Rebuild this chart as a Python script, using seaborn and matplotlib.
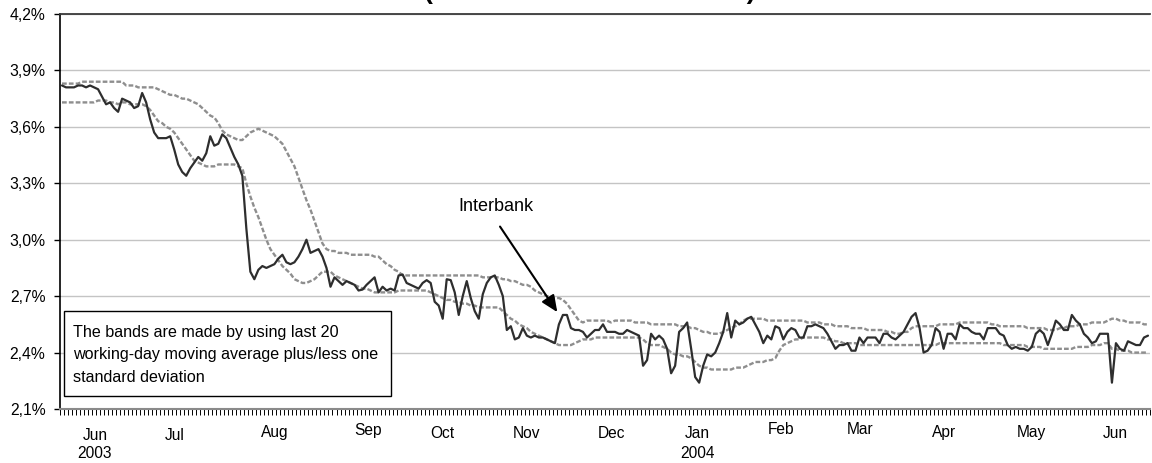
import numpy as np
import pandas as pd
import matplotlib
matplotlib.use("Agg")
import matplotlib.pyplot as plt
import matplotlib.transforms as mtransforms
from matplotlib.patches import Rectangle
from matplotlib.ticker import FuncFormatter
import seaborn as sns

# ---------------- data (percent, one value per working day) ----------------
interbank = [
    3.82, 3.81, 3.81, 3.81, 3.82, 3.82, 3.81, 3.82, 3.81, 3.80,
    3.76, 3.72, 3.73, 3.70, 3.68, 3.75, 3.74, 3.73, 3.70, 3.71,
    3.78, 3.73, 3.64, 3.57, 3.54, 3.54, 3.54, 3.55, 3.48, 3.40,
    3.36, 3.34, 3.38, 3.41, 3.44, 3.42, 3.46, 3.55, 3.50, 3.51,
    3.56, 3.54, 3.49, 3.44, 3.40, 3.34, 3.06, 2.83, 2.79, 2.84,
    2.86, 2.85, 2.86, 2.87, 2.90, 2.92, 2.88, 2.87, 2.88, 2.91,
    2.95, 3.00, 2.93, 2.94, 2.95, 2.91, 2.85, 2.75, 2.80, 2.78,
    2.76, 2.78, 2.77, 2.76, 2.73, 2.735, 2.76, 2.78, 2.80, 2.72,
    2.75, 2.73, 2.74, 2.73, 2.81, 2.815, 2.77, 2.76, 2.75, 2.74,
    2.77, 2.785, 2.77, 2.67, 2.65, 2.58, 2.79, 2.785, 2.72, 2.60,
    2.70, 2.78, 2.69, 2.62, 2.58, 2.71, 2.77, 2.80, 2.81, 2.76,
    2.70, 2.52, 2.54, 2.47, 2.48, 2.53, 2.49, 2.48, 2.49, 2.48,
    2.48, 2.47, 2.46, 2.45, 2.55, 2.60, 2.60, 2.53, 2.52, 2.52,
    2.51, 2.48, 2.50, 2.52, 2.52, 2.55, 2.51, 2.51, 2.51, 2.50,
    2.50, 2.52, 2.51, 2.50, 2.49, 2.33, 2.36, 2.50, 2.47, 2.49,
    2.47, 2.42, 2.29, 2.33, 2.51, 2.53, 2.56, 2.42, 2.27, 2.24,
    2.33, 2.39, 2.38, 2.40, 2.45, 2.51, 2.61, 2.48, 2.57, 2.55,
    2.56, 2.58, 2.59, 2.55, 2.51, 2.45, 2.49, 2.47, 2.54, 2.53,
    2.47, 2.51, 2.53, 2.52, 2.48, 2.48, 2.54, 2.54, 2.55, 2.54,
    2.53, 2.50, 2.46, 2.42, 2.44, 2.44, 2.45, 2.41, 2.41, 2.48,
    2.45, 2.48, 2.48, 2.48, 2.45, 2.50, 2.50, 2.48, 2.47, 2.49,
    2.51, 2.55, 2.59, 2.61, 2.53, 2.40, 2.41, 2.44, 2.53, 2.51,
    2.42, 2.50, 2.50, 2.47, 2.55, 2.53, 2.53, 2.51, 2.50, 2.50,
    2.47, 2.53, 2.53, 2.53, 2.50, 2.49, 2.44, 2.42, 2.43, 2.42,
    2.42, 2.41, 2.43, 2.50, 2.52, 2.50, 2.44, 2.50, 2.57, 2.55,
    2.52, 2.52, 2.60, 2.57, 2.55, 2.50, 2.48, 2.45, 2.46, 2.50,
    2.50, 2.50, 2.24, 2.45, 2.42, 2.41, 2.46, 2.45, 2.44, 2.44,
    2.48, 2.49,
]

upper_band = [
    3.83, 3.83, 3.83, 3.83, 3.83, 3.84, 3.84, 3.84, 3.84, 3.84,
    3.84, 3.84, 3.84, 3.84, 3.84, 3.84, 3.82, 3.82, 3.82, 3.81,
    3.81, 3.81, 3.81, 3.81, 3.80, 3.79, 3.78, 3.77, 3.77, 3.76,
    3.75, 3.75, 3.74, 3.73, 3.72, 3.70, 3.68, 3.66, 3.65, 3.62,
    3.58, 3.56, 3.55, 3.54, 3.53, 3.53, 3.55, 3.57, 3.58, 3.59,
    3.58, 3.57, 3.56, 3.55, 3.53, 3.51, 3.47, 3.43, 3.39, 3.33,
    3.27, 3.21, 3.16, 3.10, 3.04, 2.98, 2.95, 2.94, 2.94, 2.93,
    2.93, 2.93, 2.92, 2.92, 2.92, 2.92, 2.92, 2.92, 2.91, 2.91,
    2.89, 2.87, 2.86, 2.84, 2.83, 2.81, 2.81, 2.81, 2.81, 2.81,
    2.81, 2.81, 2.81, 2.81, 2.81, 2.81, 2.81, 2.81, 2.81, 2.81,
    2.81, 2.81, 2.81, 2.81, 2.81, 2.80, 2.80, 2.80, 2.80, 2.80,
    2.79, 2.79, 2.78, 2.78, 2.77, 2.76, 2.76, 2.75, 2.73, 2.72,
    2.71, 2.70, 2.70, 2.69, 2.69, 2.68, 2.66, 2.63, 2.60, 2.57,
    2.56, 2.57, 2.57, 2.57, 2.57, 2.57, 2.57, 2.56, 2.57, 2.57,
    2.57, 2.57, 2.57, 2.56, 2.56, 2.56, 2.56, 2.55, 2.55, 2.55,
    2.55, 2.55, 2.55, 2.55, 2.54, 2.54, 2.54, 2.53, 2.53, 2.52,
    2.51, 2.51, 2.50, 2.50, 2.50, 2.51, 2.52, 2.53, 2.54, 2.55,
    2.57, 2.58, 2.58, 2.58, 2.58, 2.58, 2.57, 2.57, 2.57, 2.57,
    2.57, 2.57, 2.57, 2.57, 2.57, 2.57, 2.56, 2.56, 2.56, 2.56,
    2.55, 2.55, 2.55, 2.54, 2.54, 2.54, 2.54, 2.53, 2.53, 2.53,
    2.53, 2.52, 2.52, 2.52, 2.52, 2.52, 2.51, 2.51, 2.50, 2.50,
    2.51, 2.51, 2.53, 2.54, 2.54, 2.54, 2.54, 2.54, 2.54, 2.55,
    2.55, 2.55, 2.55, 2.55, 2.56, 2.56, 2.56, 2.56, 2.56, 2.56,
    2.56, 2.56, 2.55, 2.55, 2.54, 2.54, 2.54, 2.54, 2.54, 2.54,
    2.54, 2.53, 2.53, 2.53, 2.53, 2.53, 2.52, 2.52, 2.52, 2.53,
    2.53, 2.54, 2.54, 2.54, 2.55, 2.55, 2.55, 2.56, 2.56, 2.56,
    2.56, 2.57, 2.58, 2.58, 2.57, 2.57, 2.56, 2.56, 2.56, 2.56,
    2.55, 2.55,
]

lower_band = [
    3.73, 3.73, 3.73, 3.73, 3.73, 3.73, 3.73, 3.73, 3.73, 3.74,
    3.74, 3.74, 3.73, 3.73, 3.72, 3.73, 3.73, 3.72, 3.72, 3.72,
    3.72, 3.71, 3.69, 3.66, 3.63, 3.62, 3.60, 3.59, 3.57, 3.54,
    3.51, 3.48, 3.45, 3.42, 3.41, 3.40, 3.39, 3.39, 3.39, 3.40,
    3.40, 3.40, 3.40, 3.40, 3.39, 3.38, 3.30, 3.23, 3.17, 3.12,
    3.06, 3.00, 2.95, 2.92, 2.89, 2.86, 2.84, 2.82, 2.79, 2.78,
    2.77, 2.77, 2.78, 2.79, 2.81, 2.83, 2.83, 2.83, 2.81, 2.80,
    2.79, 2.78, 2.77, 2.76, 2.75, 2.74, 2.74, 2.73, 2.72, 2.72,
    2.72, 2.72, 2.72, 2.72, 2.73, 2.73, 2.73, 2.73, 2.73, 2.73,
    2.73, 2.73, 2.72, 2.71, 2.70, 2.69, 2.68, 2.68, 2.67, 2.67,
    2.66, 2.66, 2.65, 2.65, 2.64, 2.64, 2.64, 2.64, 2.64, 2.64,
    2.62, 2.60, 2.58, 2.57, 2.55, 2.54, 2.53, 2.51, 2.50, 2.49,
    2.48, 2.47, 2.46, 2.45, 2.44, 2.44, 2.44, 2.44, 2.45, 2.46,
    2.47, 2.47, 2.47, 2.48, 2.48, 2.48, 2.48, 2.48, 2.48, 2.48,
    2.48, 2.48, 2.48, 2.48, 2.48, 2.47, 2.45, 2.44, 2.44, 2.44,
    2.43, 2.42, 2.40, 2.39, 2.39, 2.38, 2.38, 2.37, 2.35, 2.33,
    2.32, 2.32, 2.31, 2.31, 2.31, 2.31, 2.31, 2.31, 2.32, 2.32,
    2.32, 2.33, 2.34, 2.35, 2.35, 2.35, 2.36, 2.36, 2.37, 2.41,
    2.44, 2.45, 2.46, 2.47, 2.47, 2.48, 2.48, 2.48, 2.48, 2.48,
    2.48, 2.47, 2.47, 2.46, 2.46, 2.45, 2.45, 2.45, 2.45, 2.44,
    2.44, 2.44, 2.44, 2.44, 2.44, 2.44, 2.44, 2.44, 2.44, 2.44,
    2.44, 2.44, 2.44, 2.44, 2.44, 2.44, 2.44, 2.44, 2.44, 2.45,
    2.45, 2.45, 2.45, 2.45, 2.45, 2.45, 2.45, 2.45, 2.45, 2.45,
    2.45, 2.45, 2.45, 2.45, 2.45, 2.44, 2.44, 2.44, 2.44, 2.44,
    2.44, 2.43, 2.43, 2.43, 2.43, 2.42, 2.42, 2.42, 2.42, 2.42,
    2.42, 2.42, 2.42, 2.43, 2.43, 2.43, 2.43, 2.44, 2.44, 2.44,
    2.45, 2.45, 2.42, 2.42, 2.41, 2.41, 2.41, 2.40, 2.40, 2.40,
    2.40, 2.40,
]

month_labels = ["Jun", "Jul", "Aug", "Sep", "Oct", "Nov", "Dec",
                "Jan", "Feb", "Mar", "Apr", "May", "Jun"]
month_pos = [8.2, 28.2, 53.2, 76.4, 94.8, 116.0, 137.0,
             158.5, 179.4, 199.2, 220.1, 241.8, 262.8]
year_labels = ["2003", "2004"]
year_pos = [8.2, 158.5]
y_ticks = [2.1, 2.4, 2.7, 3.0, 3.3, 3.6, 3.9, 4.2]

title_text = "(Interbank rate and bands)"
note_lines = ["The bands are made by using last 20",
              "working-day moving average plus/less one",
              "standard deviation"]

# ---------------- figure ----------------
sns.set_style("white")
plt.rcParams['font.family'] = ['Liberation Sans', 'DejaVu Sans']

W, H = 1152, 463
fig = plt.figure(figsize=(W / 100, H / 100), dpi=100)
ax_l, ax_r, ax_t, ax_b = 60, 1150, 14, 409
ax = fig.add_axes([ax_l / W, (H - ax_b) / H, (ax_r - ax_l) / W, (ax_b - ax_t) / H])

N = len(interbank)
df = pd.DataFrame({"day": np.arange(N), "Interbank": interbank,
                   "Upper": upper_band, "Lower": lower_band})

band_color = "#8e8e8e"
for col in ["Upper", "Lower"]:
    sns.lineplot(data=df, x="day", y=col, ax=ax, color=band_color, lw=1.7)
    ax.lines[-1].set_linestyle((0, (2.0, 0.9)))
sns.lineplot(data=df, x="day", y="Interbank", ax=ax, color="#2e2e2e", lw=1.6)

ax.set_xlim(-0.5, N - 0.5)
ax.set_ylim(2.1, 4.2)
ax.set_xlabel("")
ax.set_ylabel("")

ax.set_yticks(y_ticks)
ax.yaxis.set_major_formatter(FuncFormatter(lambda v, _: f"{v:.1f}%".replace(".", ",")))
ax.yaxis.grid(True, color="#c4c4c4", lw=1.0)
ax.xaxis.grid(False)
ax.set_axisbelow(True)

ax.set_xticks(np.arange(N + 1) - 0.5)
ax.set_xticklabels([])
ax.tick_params(axis="x", which="major", direction="out", length=4, width=0.7,
               color="black", bottom=True)
ax.tick_params(axis="y", direction="out", length=4.5, width=1.0, color="black",
               left=True, labelsize=11.3, pad=6, labelcolor="black")

ax.spines["right"].set_visible(False)
ax.spines["left"].set_color("black")
ax.spines["left"].set_linewidth(1.2)
ax.spines["top"].set_color("#3a3a3a")
ax.spines["top"].set_linewidth(1.3)
ax.spines["bottom"].set_color("#8a8a8a")
ax.spines["bottom"].set_linewidth(1.5)

# month labels (staggered like the original)
trans = mtransforms.blended_transform_factory(ax.transData, ax.transAxes)
month_ypx = [435, 435, 433, 431, 434, 434, 434, 434, 430, 430, 432, 432, 434]
for lbl, pos, ypx in zip(month_labels, month_pos, month_ypx):
    ax.text(pos, -(ypx - ax_b) / (ax_b - ax_t), lbl, transform=trans,
            ha="center", va="center", fontsize=11.2, color="black", clip_on=False)
for lbl, pos in zip(year_labels, year_pos):
    ax.text(pos, -(454 - ax_b) / (ax_b - ax_t), lbl, transform=trans,
            ha="center", va="center", fontsize=11.2, color="black", clip_on=False)

# note box
aw, ah = ax_r - ax_l, ax_b - ax_t
box = Rectangle(((63.5 - ax_l) / aw, (ax_b - 396) / ah), (391 - 63.5) / aw, (396 - 311) / ah,
                transform=ax.transAxes, facecolor="white", edgecolor="black", lw=1.0, zorder=5)
ax.add_patch(box)
for line, ypx in zip(note_lines, [333, 355, 377]):
    ax.text((73 - ax_l) / aw, (ax_b - ypx) / ah, line, transform=ax.transAxes,
            ha="left", va="center", fontsize=11.6, color="black", zorder=6)

# annotation
ax.annotate("", xy=(123.6, 2.615), xytext=(109.3, 3.07),
            arrowprops=dict(arrowstyle="-|>,head_length=0.5,head_width=0.22",
                            color="black", lw=1.5, mutation_scale=20,
                            shrinkA=0, shrinkB=0))
ax.text(108.2, 3.174, "Interbank", ha="center", va="center", fontsize=13, color="black")

# title (cut by the top edge, as in the reference: only the parentheses show)
fig.text(589.5 / W, 1.0 + 1.5 / H, title_text, ha="center", va="baseline",
         fontsize=19, fontweight="bold", color="black")

fig.savefig("out.png", dpi=100)
